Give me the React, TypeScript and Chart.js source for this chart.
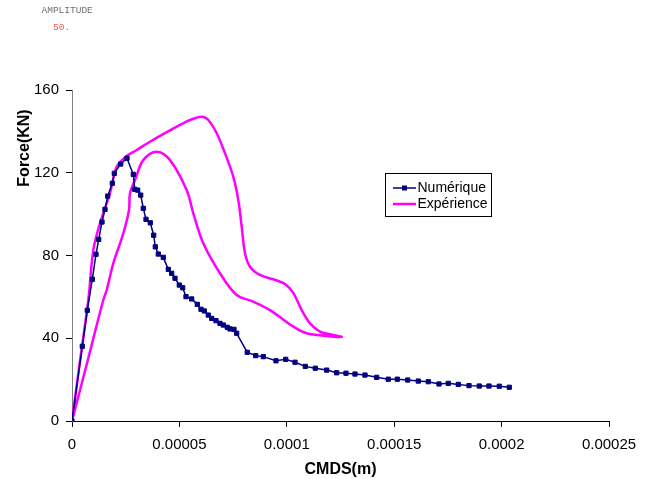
import React, { useEffect, useRef } from "react";
import { Chart, registerables } from "chart.js";

Chart.register(...registerables);

// ---- data ----
const xTickValues = [0, 0.00005, 0.0001, 0.00015, 0.0002, 0.00025];
const xTickLabels = ["0", "0.00005", "0.0001", "0.00015", "0.0002", "0.00025"];
const yTickValues = [0, 40, 80, 120, 160];
const yTickLabels = ["0", "40", "80", "120", "160"];

const seriesNames = ["Numérique", "Expérience"];

const numX = [
  0, 4.8e-6, 7.12e-6, 9.45e-6, 1.117e-5, 1.243e-5, 1.397e-5, 1.536e-5, 1.662e-5, 1.876e-5,
  1.969e-5, 2.267e-5, 2.56e-5, 2.854e-5, 2.919e-5, 3.058e-5, 3.198e-5, 3.319e-5, 3.445e-5, 3.645e-5,
  3.803e-5, 3.878e-5, 4.018e-5, 4.25e-5, 4.483e-5, 4.641e-5, 4.795e-5, 4.995e-5, 5.153e-5, 5.307e-5,
  5.572e-5, 5.833e-5, 6.005e-5, 6.159e-5, 6.345e-5, 6.503e-5, 6.703e-5, 6.889e-5, 7.043e-5, 7.229e-5,
  7.355e-5, 7.541e-5, 7.667e-5, 8.16e-5, 8.552e-5, 8.906e-5, 9.497e-5, 9.949e-5, 1.0381e-4, 1.0861e-4,
  1.1326e-4, 1.1857e-4, 1.2322e-4, 1.2755e-4, 1.3174e-4, 1.364e-4, 1.4184e-4, 1.4725e-4, 1.5144e-4, 1.5628e-4,
  1.6121e-4, 1.6587e-4, 1.7085e-4, 1.7518e-4, 1.7984e-4, 1.8482e-4, 1.8961e-4, 1.9413e-4, 1.9892e-4, 2.0357e-4,
];
const numY = [
  0, 36.1, 53.5, 68.5, 80.6, 87.8, 96.2, 102.3, 108.7, 114.9,
  119.7, 124.2, 127.0, 119.2, 112.0, 111.6, 109.2, 102.8, 97.5, 95.8,
  89.8, 84.2, 80.7, 79.1, 73.3, 71.4, 69.0, 65.7, 64.4, 60.1,
  59.0, 56.4, 54.0, 53.2, 51.2, 49.6, 48.5, 47.2, 46.4, 45.3,
  44.5, 44.3, 42.4, 33.2, 31.6, 31.1, 29.1, 29.8, 28.4, 26.4,
  25.5, 24.6, 23.3, 23.1, 22.7, 22.2, 21.1, 20.2, 20.2, 19.8,
  19.3, 19.0, 17.9, 18.2, 17.7, 17.1, 16.9, 16.9, 16.8, 16.3,
];

// experimental loop: loading branch out, then return branch back to origin
const expX = [
  0, 3.72e-6, 7.59e-6, 9.92e-6, 1.303e-5, 1.769e-5, 2.081e-5, 2.546e-5, 3.012e-5, 3.631e-5,
  5.028e-5, 5.493e-5, 6.038e-5, 6.345e-5, 6.736e-5, 7.123e-5, 7.509e-5, 7.742e-5, 7.9e-5, 8.054e-5,
  8.287e-5, 8.752e-5, 9.53e-5, 9.916e-5, 1.0302e-4, 1.0693e-4, 1.108e-4, 1.1545e-4, 1.2164e-4, 1.2555e-4,
  1.1848e-4, 1.0926e-4, 1.0302e-4, 9.218e-5, 8.44e-5, 7.667e-5, 6.89e-5, 6.112e-5, 5.647e-5, 5.34e-5,
  4.562e-5, 3.943e-5, 3.319e-5, 2.933e-5, 2.7e-5, 2.654e-5, 2.388e-5, 1.923e-5, 1.615e-5, 1.457e-5,
  7.3e-6, 0,
];
const expY = [
  0, 29.0, 58.5, 82.6, 95.6, 110.1, 122.9, 128.1, 131.0, 135.0,
  143.1, 145.5, 147.1, 145.5, 139.1, 129.4, 118.1, 106.8, 93.9, 81.1,
  74.6, 70.6, 67.9, 66.2, 61.9, 53.6, 47.2, 43.2, 41.6, 40.7,
  41.1, 42.4, 45.6, 53.6, 57.7, 60.9, 71.4, 85.9, 100.4, 111.6,
  126.1, 130.2, 126.1, 116.5, 110.1, 102.0, 90.7, 76.2, 63.3, 58.5,
  29.2, 0,
];

const headerLabel = "AMPLITUDE";
const headerValue = "50.";

const FONT = "'Liberation Sans', Arial, sans-serif";
const NAVY = "#000080";
const MAGENTA = "#FF00FF";

const overlayPlugin = {
  id: "overlay",
  afterDraw(chart: any) {
    const ctx = chart.ctx;
    ctx.save();
    // header texts
    ctx.font = "9.5px 'Liberation Mono', 'Courier New', monospace";
    ctx.textAlign = "left";
    ctx.textBaseline = "middle";
    ctx.fillStyle = "#6e6e6e";
    ctx.fillText(headerLabel, 41.5, 10);
    ctx.fillStyle = "#ff4d4d";
    ctx.fillText(headerValue, 53, 27.5);

    // y axis title
    ctx.save();
    ctx.translate(24.5, 148);
    ctx.rotate(-Math.PI / 2);
    ctx.font = "bold 16px " + FONT;
    ctx.fillStyle = "#000";
    ctx.textAlign = "center";
    ctx.textBaseline = "middle";
    ctx.fillText("Force(KN)", 0, 0);
    ctx.restore();

    // legend
    const bx = 385.5, by = 173.5, bw = 106, bh = 43;
    ctx.fillStyle = "#fff";
    ctx.fillRect(bx, by, bw, bh);
    ctx.strokeStyle = "#000";
    ctx.lineWidth = 1;
    ctx.strokeRect(bx, by, bw, bh);
    const rows = [188, 204];
    const ds = chart.data.datasets;
    rows.forEach((ry: number, i: number) => {
      const d = ds[i];
      ctx.strokeStyle = d.borderColor;
      ctx.lineWidth = d.borderWidth;
      ctx.beginPath();
      ctx.moveTo(393, ry);
      ctx.lineTo(416, ry);
      ctx.stroke();
      if (i === 0) {
        ctx.fillStyle = d.borderColor;
        ctx.fillRect(402, ry - 2.5, 5, 5);
      }
      ctx.fillStyle = "#000";
      ctx.font = "14px " + FONT;
      ctx.textAlign = "left";
      ctx.textBaseline = "middle";
      ctx.fillText(d.label, 417.5, ry);
    });
    ctx.restore();
  },
};

export default function App() {
  const ref = useRef<HTMLCanvasElement>(null);

  useEffect(() => {
    if (!ref.current) return;
    Chart.defaults.font.family = FONT;
    const chart = new Chart(ref.current, {
      type: "scatter",
      data: {
        datasets: [
          {
            label: seriesNames[0],
            data: numX.map((x, i) => ({ x, y: numY[i] })),
            showLine: true,
            borderColor: NAVY,
            backgroundColor: NAVY,
            borderWidth: 1.5,
            pointStyle: "rect",
            pointRadius: 3,
            pointBorderWidth: 1,
            pointBackgroundColor: NAVY,
            pointBorderColor: NAVY,
            tension: 0,
          },
          {
            label: seriesNames[1],
            data: expX.map((x, i) => ({ x, y: expY[i] })),
            showLine: true,
            borderColor: MAGENTA,
            backgroundColor: MAGENTA,
            borderWidth: 2.5,
            pointRadius: 0,
            tension: 0.35,
          },
        ],
      },
      options: {
        animation: false,
        responsive: false,
        events: [],
        layout: { padding: { left: 0, top: 90, right: 45, bottom: 0 } },
        plugins: {
          legend: { display: false },
          tooltip: { enabled: false },
          title: { display: false },
        },
        scales: {
          x: {
            type: "linear",
            min: 0,
            max: 0.00025,
            afterBuildTicks: (s: any) => {
              s.ticks = xTickValues.map((v) => ({ value: v }));
            },
            afterFit: (s: any) => {
              s.height = 58;
            },
            ticks: {
              color: "#000",
              font: { size: 15, family: FONT },
              padding: 9,
              maxRotation: 0,
              autoSkip: false,
              callback: (_v: any, i: number) => xTickLabels[i],
            },
            grid: {
              display: true,
              drawOnChartArea: false,
              drawTicks: true,
              tickLength: 6,
              color: "#000",
            },
            border: { display: true, color: "#000", width: 1 },
            title: {
              display: true,
              text: "CMDS(m)",
              color: "#000",
              font: { size: 16, weight: "bold", family: FONT },
              padding: { top: 0, bottom: 0 },
            },
          },
          y: {
            type: "linear",
            min: 0,
            max: 160,
            afterBuildTicks: (s: any) => {
              s.ticks = yTickValues.map((v) => ({ value: v }));
            },
            afterFit: (s: any) => {
              s.width = 72;
            },
            ticks: {
              color: "#000",
              font: { size: 15, family: FONT },
              padding: 7,
              autoSkip: false,
              callback: (_v: any, i: number) => yTickLabels[i],
            },
            grid: {
              display: true,
              drawOnChartArea: false,
              drawTicks: true,
              tickLength: 6,
              color: "#000",
            },
            border: { display: true, color: "#808080", width: 1 },
            title: { display: false },
          },
        },
      },
      plugins: [overlayPlugin],
    });
    return () => chart.destroy();
  }, []);

  return (
    <div style={{ position: "absolute", left: 0, top: 0, width: 654, height: 479, background: "#fff" }}>
      <canvas ref={ref} width={654} height={479} style={{ display: "block", width: 654, height: 479 }} />
    </div>
  );
}
